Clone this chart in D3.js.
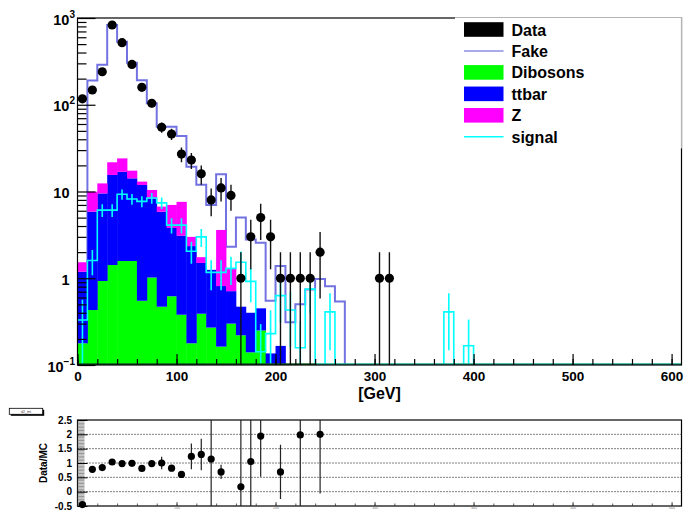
<!DOCTYPE html>
<html>
<head>
<meta charset="utf-8">
<script src="https://cdn.jsdelivr.net/npm/d3@7"></script>
<style>
  body { margin: 0; background: #fff; }
  svg { display: block; font-family: "Liberation Sans", Arial, Helvetica, sans-serif; font-weight: bold; }
</style>
</head>
<body>
<svg id="chart" width="687" height="513"></svg>
<script>
// ---- binning: 10 GeV bins from 0 to 610 GeV ----
const nBins = 61;
const binWidth = 10;
const binStarts = d3.range(nBins).map(i => i * binWidth);
const padZeros = a => a.concat(new Array(nBins - a.length).fill(0));

// ---- event counts per bin ----
const dataCounts = padZeros([117, 148, 240, 830, 520, 292, 159, 104, 55, 46, 27, 23, 16, 8, 11, 9, 1, 3, 5, 3,
                             1, 1, 1, 1, 2, 0, 0, 0, 0, 0, 1, 1]);
const fake = padZeros([0, 190, 290, 830, 533, 305, 191, 104, 55.8, 55.8, 43.6, 19.3, 12.0, 7.0, 15.8, 2.3, 5.0, 2.8, 2.57, 0.55,
                       1.38, 0.31, 0.50, 0.74, 0.98, 0.81, 0.54]);
const dibosons = padZeros([0.178, 0.43, 0.93, 1.42, 1.58, 1.58, 0.55, 1.02, 0.47, 0.62, 0.38, 0.178, 0.39, 0.27, 0.163, 0.30, 0.22, 0.14, 0.25]);
const ttbar = padZeros([1.01, 5.42, 8.57, 14.1, 15.3, 12.6, 11.35, 7.28, 5.38, 3.18, 2.72, 2.17, 1.11, 0.98, 0.65, 0.41, 0.25, 0.26, 0.20, 0.136,
                        0.166]);
const zjets = padZeros([0.34, 4.1, 2.9, 6.2, 7.2, 3.2, 1.1, 2.1, 0.85, 3.2, 4.5, 0.65, 0.25, 0, 2.79, 0.59]);
const signal = padZeros([0.33, 1.6, 6.1, 6.1, 9.3, 8.2, 7.7, 8.4, 7.4, 4.1, 4.1, 2.05, 3.0, 1.17, 1.17, 1.30, 1.53, 0.92, 0.142, 0.23,
                         0.63, 0.43, 0.158, 0.75, 0, 0.41, 0, 0, 0, 0, 0, 0, 0, 0, 0, 0, 0, 0.41, 0, 0.167]);
const signalWeight = 0.167; // per-event weight of the signal sample (sets its error bars)

// ---- Data/MC ratio ----
const ratioBins = [0, 1, 2, 3, 4, 5, 6, 7, 8, 9, 10, 11, 12, 13, 14, 16, 17, 18, 20, 22, 24];
const ratioValues = [-0.45, 0.78, 0.84, 1.035, 0.98, 0.99, 0.81, 0.98, 1.0, 0.82, 0.6, 1.23, 1.30, 1.14, 0.69, 0.17, 1.05, 1.94, 0.69, 1.98, 2.0];
const ratioErrors = [0, 0.04, 0.04, 0.03, 0.03, 0.04, 0.05, 0.06, 0.22, 0.1, 0.12, 0.45, 0.55, 1.7, 0.25, 2.6, 2.0, 1.42, 0.95, 2.6, 2.06];

// ---- axis ticks ----
const xMajorTicks = [0, 100, 200, 300, 400, 500, 600];
const xMinorTicks = d3.range(0, 611, 20);
const yDecades = [0.1, 1, 10, 100, 1000];
const yDecadeLabels = [["10", "-1"], ["1", ""], ["10", ""], ["10", "2"], ["10", "3"]];
const ratioTicks = [-0.5, 0, 0.5, 1, 1.5, 2, 2.5];
const ratioTickLabels = ["-0.5", "0", "0.5", "1", "1.5", "2", "2.5"];

const legendEntries = [
  { label: "Data", kind: "box", color: "#000000" },
  { label: "Fake", kind: "line", color: "#a9a9ec" },
  { label: "Dibosons", kind: "box", color: "#00ff00" },
  { label: "ttbar", kind: "box", color: "#0000ff" },
  { label: "Z", kind: "box", color: "#ff00ff" },
  { label: "signal", kind: "line", color: "#00ffff" }
];
const stackKeys = ["Dibosons", "ttbar", "Z"];
const stackColors = { Dibosons: "#00ff00", ttbar: "#0000ff", Z: "#ff00ff" };

// ---- scales ----
const svg = d3.select("#chart");
const frame = { left: 77.5, right: 681.5, top: 18, bottom: 365 };
const x = d3.scaleLinear().domain([0, 610]).range([frame.left, frame.right]);
const y = d3.scaleLog().domain([0.1, 1000]).range([frame.bottom, frame.top]);
const yMin = 0.1;
const clampY = v => Math.max(v, yMin);

const rp = { top: 420, bottom: 506 };
const yr = d3.scaleLinear().domain([-0.5, 2.5]).range([rp.bottom, rp.top]);

const defs = svg.append("defs");
defs.append("clipPath").attr("id", "mainClip").append("rect")
  .attr("x", frame.left).attr("y", frame.top)
  .attr("width", frame.right - frame.left).attr("height", frame.bottom - frame.top);
defs.append("clipPath").attr("id", "ratioClip").append("rect")
  .attr("x", frame.left).attr("y", rp.top)
  .attr("width", frame.right - frame.left).attr("height", rp.bottom - rp.top);

const plot = svg.append("g").attr("clip-path", "url(#mainClip)");

const stepLine = d3.line()
  .x(d => x(d[0]))
  .y(d => y(clampY(d[1])))
  .curve(d3.curveStepAfter);
const stepPoints = vals => binStarts.map((b, i) => [b, vals[i]]).concat([[610, vals[nBins - 1]]]);

// fake outline (drawn under the filled stack)
plot.append("path")
  .attr("d", stepLine(stepPoints(fake)))
  .attr("fill", "none")
  .attr("stroke", "#7272e2")
  .attr("stroke-width", 2);

// stacked backgrounds
const rows = binStarts.map((b, i) => ({ bin: b, Dibosons: dibosons[i], ttbar: ttbar[i], Z: zjets[i] }));
const stacked = d3.stack().keys(stackKeys)(rows);
stacked.forEach(layer => {
  plot.append("g")
    .selectAll("rect")
    .data(layer.filter(d => d[1] > d[0] && d[1] > yMin))
    .join("rect")
    .attr("x", d => x(d.data.bin))
    .attr("width", d => x(d.data.bin + binWidth) - x(d.data.bin) + 0.4)
    .attr("y", d => y(d[1]))
    .attr("height", d => y(clampY(d[0])) - y(d[1]))
    .attr("fill", stackColors[layer.key]);
});

// signal outline with error bars
plot.append("path")
  .attr("d", stepLine(stepPoints(signal)))
  .attr("fill", "none")
  .attr("stroke", "#00ffff")
  .attr("stroke-width", 1.6);
plot.append("g")
  .selectAll("line")
  .data(binStarts.map((b, i) => ({ b, v: signal[i] })).filter(d => d.v > 0))
  .join("line")
  .attr("x1", d => x(d.b + binWidth / 2))
  .attr("x2", d => x(d.b + binWidth / 2))
  .attr("y1", d => y(d.v + Math.sqrt(d.v * signalWeight)))
  .attr("y2", d => y(clampY(d.v - Math.sqrt(d.v * signalWeight))))
  .attr("stroke", "#00ffff")
  .attr("stroke-width", 1.6);

// baseline of empty bins along the axis
plot.append("line")
  .attr("x1", x(0)).attr("x2", x(240))
  .attr("y1", frame.bottom - 0.8).attr("y2", frame.bottom - 0.8)
  .attr("stroke", "#0c5c20").attr("stroke-width", 1.8);
plot.append("line")
  .attr("x1", x(240)).attr("x2", x(610))
  .attr("y1", frame.bottom - 0.8).attr("y2", frame.bottom - 0.8)
  .attr("stroke", "#17a88a").attr("stroke-width", 1.8);

// data points with sqrt(N) error bars
const dataPts = binStarts.map((b, i) => ({ b, n: dataCounts[i] })).filter(d => d.n > 0);
plot.append("g")
  .selectAll("line")
  .data(dataPts)
  .join("line")
  .attr("x1", d => x(d.b + binWidth / 2))
  .attr("x2", d => x(d.b + binWidth / 2))
  .attr("y1", d => y(d.n + Math.sqrt(d.n)))
  .attr("y2", d => y(clampY(d.n - Math.sqrt(d.n))))
  .attr("stroke", "#111")
  .attr("stroke-width", 1.4);
plot.append("g")
  .selectAll("circle")
  .data(dataPts)
  .join("circle")
  .attr("cx", d => x(d.b + binWidth / 2))
  .attr("cy", d => y(d.n))
  .attr("r", 4.6)
  .attr("fill", "#000");

// frame
svg.append("rect")
  .attr("x", frame.left).attr("y", frame.top)
  .attr("width", frame.right - frame.left).attr("height", frame.bottom - frame.top)
  .attr("fill", "none").attr("stroke", "#000").attr("stroke-width", 1.2);

// x axis ticks (inside, pointing up)
const xAxisMinor = d3.axisBottom(x).tickValues(xMinorTicks).tickSize(-6).tickFormat("");
const xAxisMajor = d3.axisBottom(x).tickValues(xMajorTicks).tickSize(-11).tickPadding(6.5).tickFormat(d3.format("d"));
const gxm = svg.append("g").attr("transform", `translate(0,${frame.bottom})`).call(xAxisMinor);
const gxM = svg.append("g").attr("transform", `translate(0,${frame.bottom})`).call(xAxisMajor);
[gxm, gxM].forEach(g => { g.select(".domain").remove(); g.selectAll("line").attr("stroke", "#000").attr("stroke-width", 1.2); });
gxM.selectAll("text").attr("font-size", 13.5).attr("font-weight", "bold").attr("fill", "#000")
  .attr("font-family", '"Liberation Sans", Arial, sans-serif');

svg.append("text")
  .attr("x", (frame.left + frame.right) / 2).attr("y", 399)
  .attr("text-anchor", "middle").attr("font-size", 16).text("[GeV]");

// y axis ticks (log, inside)
const yMinorVals = [];
[0.1, 1, 10, 100].forEach(dec => { for (let k = 2; k <= 9; k++) yMinorVals.push(dec * k); });
const yAxisMinor = d3.axisLeft(y).tickValues(yMinorVals).tickSize(-9).tickFormat("");
const yAxisMajor = d3.axisLeft(y).tickValues(yDecades).tickSize(-18).tickFormat("");
const gym = svg.append("g").attr("transform", `translate(${frame.left},0)`).call(yAxisMinor);
const gyM = svg.append("g").attr("transform", `translate(${frame.left},0)`).call(yAxisMajor);
[gym, gyM].forEach(g => { g.select(".domain").remove(); g.selectAll("line").attr("stroke", "#000").attr("stroke-width", 1.2); });

yDecades.forEach((v, i) => {
  const [base, sup] = yDecadeLabels[i];
  const t = svg.append("text")
    .attr("x", sup ? 75 : 69.5)
    .attr("y", y(v) + 6.5)
    .attr("text-anchor", "end")
    .attr("font-size", 14.5);
  t.append("tspan").text(base);
  if (sup) {
    t.append("tspan").attr("font-size", 10).attr("dy", -7).text(sup.replace("-", "\u2212"));
  }
});

// legend
const lg = { x0: 455, y0: 17.5, x1: 681.5, y1: 148.3 };
svg.append("rect")
  .attr("x", lg.x0).attr("y", lg.y0)
  .attr("width", lg.x1 - lg.x0).attr("height", lg.y1 - lg.y0)
  .attr("fill", "#fff");
svg.append("path")
  .attr("d", `M${lg.x0},${lg.y0}H${lg.x1}V${lg.y1}`)
  .attr("fill", "none").attr("stroke", "#b4b4b4").attr("stroke-width", 1.2);
legendEntries.forEach((e, i) => {
  const cy = 29.5 + i * 21.45;
  if (e.kind === "box") {
    svg.append("rect").attr("x", 464).attr("y", cy - 7.3).attr("width", 39.5).attr("height", 14.6).attr("fill", e.color);
  } else {
    svg.append("line").attr("x1", 464).attr("x2", 503.5).attr("y1", cy).attr("y2", cy)
      .attr("stroke", e.color).attr("stroke-width", e.label === "Fake" ? 2 : 1.3);
  }
  svg.append("text").attr("x", 511.5).attr("y", cy + 6).attr("font-size", 16).text(e.label);
});

// ---- ratio panel ----
const ratio = svg.append("g");
ratio.append("rect")
  .attr("x", frame.left).attr("y", rp.top)
  .attr("width", frame.right - frame.left).attr("height", rp.bottom - rp.top)
  .attr("fill", "#fff").attr("stroke", "#000").attr("stroke-width", 1.2);

ratio.append("g").selectAll("line")
  .data([0, 0.5, 1, 1.5, 2])
  .join("line")
  .attr("x1", frame.left).attr("x2", frame.right)
  .attr("y1", d => yr(d)).attr("y2", d => yr(d))
  .attr("stroke", "#000").attr("stroke-width", 1).attr("stroke-dasharray", "1,2");

const ryMinorVals = d3.range(-0.5, 2.5001, 0.05);
const ryMinor = d3.axisLeft(yr).tickValues(ryMinorVals).tickSize(-7).tickFormat("");
const ryMajor = d3.axisLeft(yr).tickValues(ratioTicks).tickSize(-10).tickPadding(5)
  .tickFormat((d, i) => ratioTickLabels[i]);
const grm = ratio.append("g").attr("transform", `translate(${frame.left},0)`).call(ryMinor);
const grM = ratio.append("g").attr("transform", `translate(${frame.left},0)`).call(ryMajor);
[grm, grM].forEach(g => g.select(".domain").remove());
grm.selectAll("line").attr("stroke", "#666").attr("stroke-width", 0.7);
grM.selectAll("line").attr("stroke", "#000").attr("stroke-width", 1);
grM.selectAll("text").attr("font-size", 10).attr("font-weight", "bold").attr("fill", "#000")
  .attr("font-family", '"Liberation Sans", Arial, sans-serif').attr("x", -5.5);

ratio.append("text")
  .attr("transform", `translate(46.5,${(rp.top + rp.bottom) / 2}) rotate(-90)`)
  .attr("text-anchor", "middle").attr("font-size", 10).text("Data/MC");

const rxMinor = d3.axisBottom(x).tickValues(xMinorTicks).tickSize(-2.5).tickFormat("");
const rxMajor = d3.axisBottom(x).tickValues(xMajorTicks.slice(1)).tickSize(-4).tickPadding(1).tickFormat(d3.format("d"));
const grxm = ratio.append("g").attr("transform", `translate(0,${rp.bottom})`).call(rxMinor);
const grxM = ratio.append("g").attr("transform", `translate(0,${rp.bottom})`).call(rxMajor);
[grxm, grxM].forEach(g => { g.select(".domain").remove(); g.selectAll("line").attr("stroke", "#333").attr("stroke-width", 0.8); });
grxM.selectAll("text").attr("font-size", 3.5).attr("fill", "#777").attr("font-weight", "normal");

const ratioPts = ratioBins.map((b, i) => ({ b, v: ratioValues[i], e: ratioErrors[i] }));
ratio.append("g").attr("clip-path", "url(#ratioClip)")
  .selectAll("line")
  .data(ratioPts.filter(d => d.e > 0))
  .join("line")
  .attr("x1", d => x(binStarts[d.b] + binWidth / 2))
  .attr("x2", d => x(binStarts[d.b] + binWidth / 2))
  .attr("y1", d => yr(d.v + d.e))
  .attr("y2", d => yr(d.v - d.e))
  .attr("stroke", "#222").attr("stroke-width", 1.2);
ratio.append("g")
  .selectAll("circle")
  .data(ratioPts)
  .join("circle")
  .attr("cx", d => x(binStarts[d.b] + binWidth / 2))
  .attr("cy", d => yr(d.v))
  .attr("r", 3.6)
  .attr("fill", "#000");

// small histogram name box
svg.append("rect").attr("x", 10.8).attr("y", 409.8).attr("width", 33.4).attr("height", 6).attr("fill", "#000");
svg.append("rect").attr("x", 9.3).attr("y", 408.3).attr("width", 33.4).attr("height", 6)
  .attr("fill", "#fff").attr("stroke", "#000").attr("stroke-width", 0.8);
svg.append("text").attr("x", 26).attr("y", 412.6).attr("text-anchor", "middle")
  .attr("font-size", 3.6).attr("font-weight", "normal").attr("fill", "#444").text("d2_mt");
</script>
</body>
</html>
